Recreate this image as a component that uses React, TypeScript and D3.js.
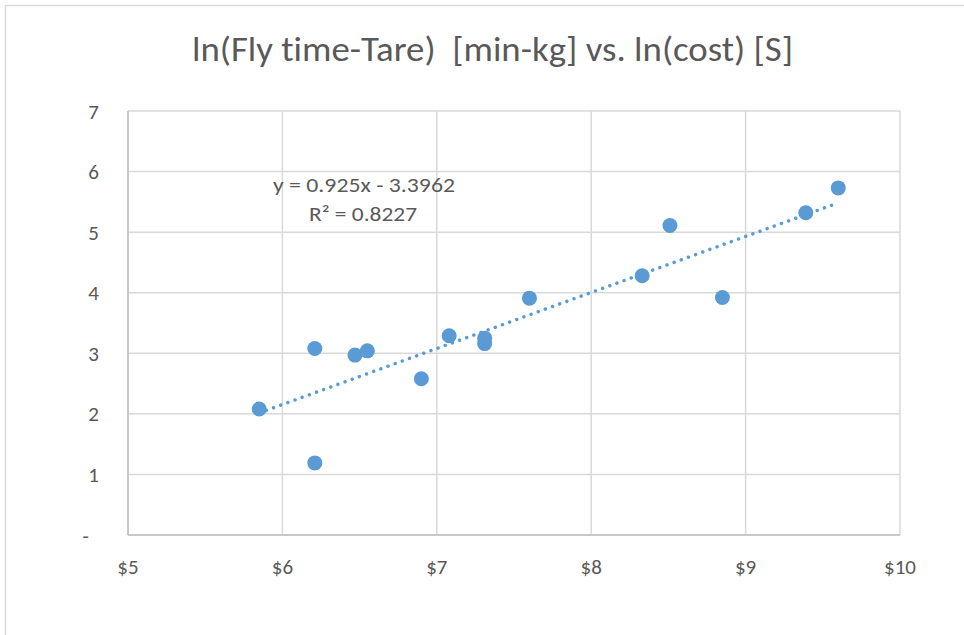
import React from "react";
import * as d3 from "d3";

const costLn = [5.85, 6.21, 6.21, 6.47, 6.55, 6.9, 7.08, 7.31, 7.31, 7.6, 8.33, 8.51, 8.85, 9.39, 9.6];
const flyLn = [2.08, 3.08, 1.19, 2.97, 3.04, 2.58, 3.29, 3.25, 3.16, 3.91, 4.28, 5.11, 3.92, 5.32, 5.73];
const xTicks = [5, 6, 7, 8, 9, 10];
const yTicks = [0, 1, 2, 3, 4, 5, 6, 7];
const slope = 0.925;
const intercept = -3.3962;
const title = "ln(Fly time-Tare)  [min-kg] vs. ln(cost) [S]";
const eqText = "y = 0.925x - 3.3962";
const r2Text = "R² = 0.8227";

const W = 964;
const H = 635;
const left = 128;
const right = 900;
const top = 111;
const bottom = 535;
const font = "Carlito, Calibri, Lato, 'Open Sans', sans-serif";
const textColor = "#595959";
const blue = "#5B9BD5";

export default function App() {
  const x = d3.scaleLinear().domain([5, 10]).range([left, right]);
  const y = d3.scaleLinear().domain([0, 7]).range([bottom, top]);
  const xMin = d3.min(costLn) as number;
  const xMax = d3.max(costLn) as number;
  const line = d3
    .line<number>()
    .x((d) => x(d))
    .y((d) => y(slope * d + intercept));
  const fmtX = (d: number) => "$" + d3.format("d")(d);
  const fmtY = (d: number) => (d === 0 ? "-" : String(d));
  return (
    <svg
      width={W}
      height={H}
      style={{ position: "absolute", left: 0, top: 0, background: "#fff", fontVariantLigatures: "none" }}
      fontFamily={font}
    >
      <rect x={0} y={0} width={W} height={H} fill="#fff" />
      <rect x={5.5} y={5.5} width={W + 20} height={H + 20} fill="none" stroke="#D9D9D9" strokeWidth={1.5} />
      <text
        x={492.5}
        y={61}
        textAnchor="middle"
        fontSize={35}
        fontWeight={300}
        fill={textColor}
        textLength={601}
        lengthAdjust="spacingAndGlyphs"
        style={{ whiteSpace: "pre", fontVariantLigatures: "none" }}
      >
        {title}
      </text>
      {yTicks.map((t) => (
        <line key={"gy" + t} x1={left} x2={right} y1={y(t)} y2={y(t)} stroke="#D9D9D9" strokeWidth={1.5} />
      ))}
      {xTicks.map((t) => (
        <line key={"gx" + t} x1={x(t)} x2={x(t)} y1={top} y2={bottom} stroke="#D9D9D9" strokeWidth={1.5} />
      ))}
      <line x1={left} x2={left} y1={top} y2={bottom} stroke="#BFBFBF" strokeWidth={1.5} />
      <line x1={left} x2={right} y1={bottom} y2={bottom} stroke="#BFBFBF" strokeWidth={1.5} />
      {yTicks.map((t) => (
        <text key={"ty" + t} x={t === 0 ? 89 : 99} y={y(t) + 7.5} textAnchor="end" fontSize={21} fill={textColor}>
          {fmtY(t)}
        </text>
      ))}
      {xTicks.map((t) => (
        <text key={"tx" + t} x={x(t)} y={574} textAnchor="middle" fontSize={21} fill={textColor}>
          {fmtX(t)}
        </text>
      ))}
      <path
        d={line([xMin, xMax]) || ""}
        fill="none"
        stroke={blue}
        strokeWidth={3.5}
        strokeLinecap="round"
        strokeDasharray="0.01 7.6"
      />
      {costLn.map((c, i) => (
        <circle key={"p" + i} cx={x(c)} cy={y(flyLn[i])} r={7.5} fill={blue} />
      ))}
      <text x={364} y={192} textAnchor="middle" fontSize={20} fill={textColor} textLength={182} lengthAdjust="spacingAndGlyphs">
        {eqText}
      </text>
      <text x={363} y={221} textAnchor="middle" fontSize={20} fill={textColor} textLength={108} lengthAdjust="spacingAndGlyphs">
        {r2Text}
      </text>
    </svg>
  );
}
